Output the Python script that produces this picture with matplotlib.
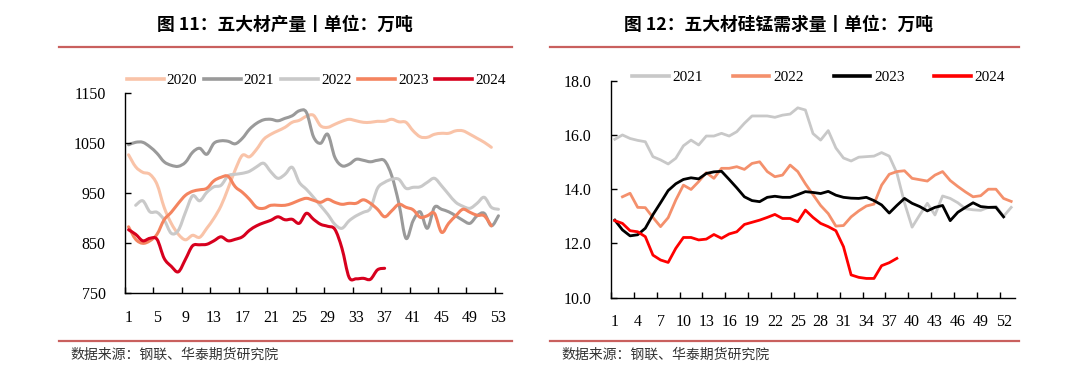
import numpy as np
import matplotlib.pyplot as plt
from matplotlib.path import Path
from matplotlib.patches import PathPatch
from matplotlib.lines import Line2D

plt.rcParams['font.family'] = ['Liberation Serif', 'Noto Sans CJK SC']

# 图11：五大材产量（万吨），按周
prod_2020 = [1027, 1003, 992, 988, 968, 922, 890, 868, 857, 866, 862, 880, 900, 925, 960, 997,
             1026, 1023, 1038, 1058, 1068, 1075, 1082, 1092, 1096, 1104, 1106, 1085, 1082, 1088,
             1094, 1098, 1095, 1092, 1092, 1094, 1094, 1098, 1093, 1092, 1075, 1063, 1062, 1068,
             1070, 1070, 1075, 1075, 1068, 1060, 1052, 1042]
prod_2021 = [1047, 1052, 1052, 1043, 1030, 1013, 1006, 1004, 1012, 1032, 1040, 1028, 1050, 1055,
             1054, 1049, 1060, 1078, 1090, 1097, 1098, 1095, 1100, 1105, 1115, 1112, 1063, 1050,
             1068, 1022, 1005, 1008, 1018, 1016, 1013, 1016, 1015, 985, 930, 860, 895, 913, 880,
             922, 918, 913, 905, 896, 890, 905, 910, 885, 905]
prod_2022 = [None, 926, 935, 913, 912, 897, 870, 876, 912, 945, 935, 952, 963, 966, 985, 988, 990,
             994, 1003, 1010, 993, 980, 988, 1002, 972, 958, 942, 925, 908, 888, 880, 895, 905, 912,
             920, 960, 972, 978, 978, 960, 962, 963, 972, 980, 965, 948, 932, 924, 920, 930, 942,
             922, 918]
prod_2023 = [883, 858, 850, 855, 868, 897, 912, 930, 946, 954, 957, 960, 975, 982, 984, 963, 952,
             938, 922, 920, 926, 926, 926, 930, 936, 940, 936, 932, 938, 932, 928, 930, 930, 937,
             930, 918, 903, 915, 928, 922, 917, 902, 905, 910, 872, 890, 905, 918, 912, 906, 905,
             885]
prod_2024 = [877, 868, 855, 860, 858, 820, 804, 793, 818, 845, 847, 848, 855, 863, 855, 858, 863,
             876, 885, 891, 896, 903, 897, 898, 890, 910, 898, 888, 884, 878, 840, 782, 779, 780,
             778, 797, 800]

# 图12：五大材硅锰需求量（万吨），按周
dem_2021 = [15.84, 16.0, 15.87, 15.8, 15.75, 15.2, 15.08, 14.93, 15.14, 15.6, 15.81, 15.63, 15.96,
            15.96, 16.06, 15.96, 16.12, 16.43, 16.7, 16.7, 16.7, 16.65, 16.73, 16.77, 17.0, 16.92,
            16.05, 15.81, 16.16, 15.52, 15.15, 15.04, 15.18, 15.2, 15.22, 15.35, 15.22, 14.6, 13.5,
            12.6, 13.05, 13.48, 13.05, 13.75, 13.66, 13.5, 13.28, 13.24, 13.22, 13.33, 13.37, 13.0,
            13.33]
dem_2022 = [None, 13.72, 13.85, 13.33, 13.32, 12.96, 12.62, 12.95, 13.6, 14.15, 13.99, 14.28, 14.61,
            14.4, 14.77, 14.77, 14.83, 14.73, 14.95, 15.01, 14.65, 14.46, 14.52, 14.89, 14.65, 14.2,
            13.8, 13.4, 13.1, 12.64, 12.66, 12.98, 13.2, 13.38, 13.45, 14.15, 14.55, 14.65, 14.68,
            14.4, 14.35, 14.3, 14.52, 14.65, 14.32, 14.1, 13.9, 13.72, 13.76, 14.0, 14.0, 13.66,
            13.55]
dem_2023 = [12.86, 12.5, 12.28, 12.32, 12.56, 13.06, 13.5, 13.95, 14.2, 14.36, 14.42, 14.38, 14.58,
            14.64, 14.66, 14.36, 14.05, 13.72, 13.58, 13.54, 13.7, 13.74, 13.7, 13.7, 13.8, 13.91,
            13.88, 13.84, 13.92, 13.78, 13.7, 13.67, 13.66, 13.7, 13.58, 13.42, 13.12, 13.4, 13.66,
            13.48, 13.36, 13.2, 13.33, 13.4, 12.84, 13.15, 13.33, 13.5, 13.36, 13.33, 13.33, 12.98]
dem_2024 = [12.84, 12.74, 12.47, 12.43, 12.25, 11.57, 11.39, 11.3, 11.82, 12.22, 12.22, 12.13,
            12.16, 12.33, 12.19, 12.35, 12.43, 12.7, 12.78, 12.86, 12.96, 13.07, 12.92, 12.92, 12.8,
            13.23, 12.96, 12.74, 12.62, 12.47, 11.88, 10.84, 10.75, 10.71, 10.71, 11.18, 11.29, 11.45]

left_series = [('2020', prod_2020, '#F9C3A8'), ('2021', prod_2021, '#9A9A9A'),
               ('2022', prod_2022, '#C9C9C9'), ('2023', prod_2023, '#F4845F'),
               ('2024', prod_2024, '#D7001E')]
right_series = [('2021', dem_2021, '#C8C8C8'), ('2022', dem_2022, '#F4906C'),
                ('2023', dem_2023, '#000000'), ('2024', dem_2024, '#FF0000')]

W, H = 1080, 373


def fx(px):
    return px / W


def fy(py):
    return 1 - py / H


def to_xy(vals):
    x = np.array([i + 1 for i, v in enumerate(vals) if v is not None], dtype=float)
    y = np.array([v for v in vals if v is not None], dtype=float)
    return x, y


def smooth_path(x, y):
    # 平滑曲线（Catmull-Rom -> 三次贝塞尔）
    pts = np.column_stack([x, y])
    n = len(pts)
    verts = [pts[0]]
    codes = [Path.MOVETO]
    for i in range(n - 1):
        p0 = pts[i - 1] if i > 0 else pts[i]
        p1 = pts[i]
        p2 = pts[i + 1]
        p3 = pts[i + 2] if i + 2 < n else pts[i + 1]
        c1 = p1 + (p2 - p0) / 6.0
        c2 = p2 - (p3 - p1) / 6.0
        verts += [c1, c2, p2]
        codes += [Path.CURVE4] * 3
    return Path(verts, codes)


def style_axes(ax):
    for s in ['top', 'right']:
        ax.spines[s].set_visible(False)
    for s in ['left', 'bottom']:
        ax.spines[s].set_linewidth(1.0)
        ax.spines[s].set_color('black')
    ax.tick_params(axis='both', which='major', direction='in', length=4, width=1,
                   labelsize=11.5, colors='black')
    ax.tick_params(axis='y', which='major', pad=14)
    ax.tick_params(axis='x', which='major', labelbottom=False)
    ax.tick_params(axis='x', which='minor', length=0, labelsize=11.5, pad=12)


fig = plt.figure(figsize=(W / 100, H / 100), dpi=100)

# 左图
ax1 = fig.add_axes([fx(125), fy(293.3), fx(377), 200 / H])
handles = []
for name, vals, color in left_series:
    x, y = to_xy(vals)
    patch = PathPatch(smooth_path(x, y), facecolor='none', edgecolor=color, lw=2.2,
                      capstyle='round', joinstyle='round')
    ax1.add_patch(patch)
    handles.append(Line2D([], [], color=color, lw=2.6, label=name))
ax1.set_xlim(0.5, 53.5)
ax1.set_ylim(750, 1150)
ax1.set_yticks([750, 850, 950, 1050, 1150])
ax1.set_xticks(np.arange(0.5, 53.6, 4))
ax1.set_xticks(np.arange(1, 54, 4), minor=True)
ax1.set_xticklabels([str(v) for v in range(1, 54, 4)], minor=True)
style_axes(ax1)
ax1.legend(handles=handles, loc='center left', bbox_to_anchor=(fx(127), fy(80)),
           bbox_transform=fig.transFigure, ncol=5, frameon=False, fontsize=11,
           handlelength=2.4, handletextpad=0.2, columnspacing=0.45, borderpad=0,
           borderaxespad=0)

# 右图
ax2 = fig.add_axes([fx(611), fy(297.7), fx(404), 217 / H])
handles = []
for name, vals, color in right_series:
    x, y = to_xy(vals)
    ax2.plot(x, y, color=color, lw=2.0, solid_joinstyle='round')
    handles.append(Line2D([], [], color=color, lw=2.6, label=name))
ax2.set_xlim(0.5, 53.5)
ax2.set_ylim(10, 18)
ax2.set_yticks(np.arange(10, 18.1, 2))
ax2.set_yticklabels([f'{v:.1f}' for v in np.arange(10, 18.1, 2)])
ax2.set_xticks(np.arange(0.5, 53.6, 3))
ax2.set_xticks(np.arange(1, 54, 3), minor=True)
ax2.set_xticklabels([str(v) for v in range(1, 54, 3)], minor=True)
style_axes(ax2)
ax2.legend(handles=handles, loc='center left', bbox_to_anchor=(fx(632), fy(77)),
           bbox_transform=fig.transFigure, ncol=4, frameon=False, fontsize=11,
           handlelength=2.4, handletextpad=0.25, columnspacing=1.95, borderpad=0,
           borderaxespad=0)

# 标题、分隔线、来源
cjk = ['Noto Sans CJK SC', 'DejaVu Sans']
fig.text(fx(285), fy(25), '图 11：五大材产量丨单位：万吨', ha='center', va='center',
         fontsize=12.8, fontweight='bold', family=cjk)
fig.text(fx(779), fy(25), '图 12：五大材硅锰需求量丨单位：万吨', ha='center', va='center',
         fontsize=12.8, fontweight='bold', family=cjk)
for x0, x1 in [(59, 512), (550, 1019)]:
    for yy in (46.7, 340.5):
        fig.add_artist(Line2D([fx(x0), fx(x1)], [fy(yy), fy(yy)], color='#C9605E', lw=1.6))
fig.text(fx(70), fy(355), '数据来源：钢联、华泰期货研究院', ha='left', va='center',
         fontsize=10, color='#333333', family=cjk)
fig.text(fx(561), fy(355), '数据来源：钢联、华泰期货研究院', ha='left', va='center',
         fontsize=10, color='#333333', family=cjk)

fig.savefig('out.png', dpi=100)
